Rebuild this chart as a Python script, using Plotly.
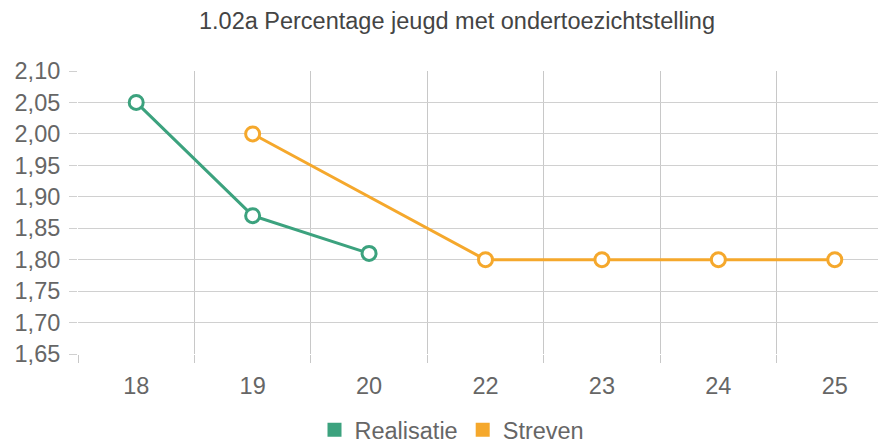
import plotly.graph_objects as go

categories = ["18", "19", "20", "22", "23", "24", "25"]
realisatie = [2.05, 1.87, 1.81, None, None, None, None]
streven = [None, 2.00, None, 1.80, 1.80, 1.80, 1.80]
y_ticks = [1.65, 1.70, 1.75, 1.80, 1.85, 1.90, 1.95, 2.00, 2.05, 2.10]

GREEN = "#3ca27e"
ORANGE = "#f5a82c"
FONT = "Liberation Sans, Arial, sans-serif"
FS = 23.5
W, H = 878, 436  # page body has an 8px margin

fig = go.Figure()

def add_series(name, vals, color):
    xs = [c for c, v in zip(categories, vals) if v is not None]
    ys = [v for v in vals if v is not None]
    fig.add_trace(go.Scatter(
        x=xs, y=ys, mode="lines+markers", name=name, showlegend=False,
        line=dict(color=color, width=3),
        marker=dict(symbol="circle", size=14, color="white",
                    line=dict(color=color, width=3)),
    ))
    fig.add_trace(go.Scatter(
        x=[None], y=[None], mode="markers", name=name, showlegend=True,
        marker=dict(symbol="square", size=14, color=color),
    ))

add_series("Realisatie", realisatie, GREEN)
add_series("Streven", streven, ORANGE)

fig.update_layout(
    width=W, height=H,
    margin=dict(l=70, r=0, t=63, b=90, autoexpand=False),
    paper_bgcolor="white", plot_bgcolor="white",
    separators=",.",
    font=dict(family=FONT, size=FS, color="#666666"),
    title=dict(text="1.02a Percentage jeugd met ondertoezichtstelling",
               xref="container", x=449/W, xanchor="center",
               yref="container", y=1 - 13/H, yanchor="middle",
               font=dict(family=FONT, size=FS, color="#444444")),
    legend=dict(orientation="h", xref="container", x=444/W, xanchor="center",
                yref="container", y=1 - 422/H, yanchor="middle",
                font=dict(family=FONT, size=FS, color="#666666"),
                itemwidth=30, tracegroupgap=0),
    showlegend=True,
)

fig.update_xaxes(
    type="category", categoryorder="array", categoryarray=categories,
    range=[-0.5, 6.44], automargin=False,
    tickson="boundaries", ticks="outside", ticklen=8, tickcolor="#c8c8c8",
    showgrid=True, gridcolor="#c8c8c8", gridwidth=1,
    showline=False, zeroline=False,
    ticklabelstandoff=15,
)
fig.update_yaxes(
    range=[1.65, 2.10], tickvals=y_ticks, tickformat=".2f", automargin=False,
    ticks="outside", ticklen=8, tickcolor="#d0d0d0",
    showgrid=True, gridcolor="#d0d0d0", gridwidth=1,
    showline=False, zeroline=False,
    ticklabelstandoff=4,
)

fig.write_html("out.html")
